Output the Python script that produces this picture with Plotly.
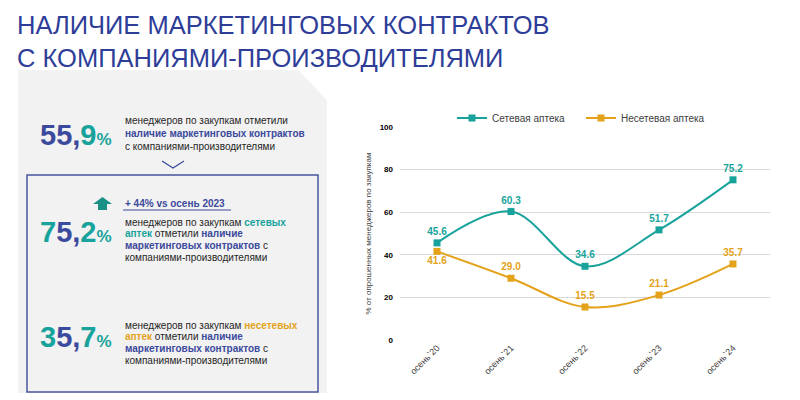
import plotly.graph_objects as go

seasons = ["осень`20", "осень`21", "осень`22", "осень`23", "осень`24"]
network = [45.6, 60.3, 34.6, 51.7, 75.2]
non_network = [41.6, 29.0, 15.5, 21.1, 35.7]
non_network_pos = ["bottom center", "top center", "top center", "top center", "top center"]

TEAL = "#17A39B"
ORANGE = "#E3A21A"
BLUE = "#3B4A9C"
TITLE_BLUE = "#2E3D98"
DARK = "#262626"
FONT = "Liberation Sans, Arial, sans-serif"
W, H = 800, 400
OFF = 8  # page margin around the plot div


def px(x):
    return (x - OFF) / W


def py(y):
    return 1 - (y - OFF) / H


fig = go.Figure()
fig.add_trace(go.Scatter(
    x=seasons, y=network, name="Сетевая аптека",
    mode="lines+markers+text", line=dict(color=TEAL, width=2, shape="spline", smoothing=1),
    marker=dict(symbol="square", size=7, color=TEAL),
    text=[f"{v:.1f}" for v in network], textposition="top center",
    textfont=dict(color=TEAL, size=10, family=FONT, weight="bold"),
))
fig.add_trace(go.Scatter(
    x=seasons, y=non_network, name="Несетевая аптека",
    mode="lines+markers+text", line=dict(color=ORANGE, width=2, shape="spline", smoothing=1),
    marker=dict(symbol="square", size=7, color=ORANGE),
    text=[f"{v:.1f}" for v in non_network], textposition=non_network_pos,
    textfont=dict(color=ORANGE, size=10, family=FONT, weight="bold"),
))

shapes = [
    # grey panel with cut corner
    dict(type="path", xref="paper", yref="paper", layer="below",
         path=f"M {px(18)},{py(70)} L {px(298)},{py(70)} L {px(327)},{py(100)} "
              f"L {px(327)},{py(393)} L {px(18)},{py(393)} Z",
         fillcolor="#F2F2F2", line=dict(width=0)),
    # framed box
    dict(type="rect", xref="paper", yref="paper", layer="below",
         x0=px(27), x1=px(318), y0=py(175), y1=py(392),
         line=dict(color="#4A569D", width=1.5), fillcolor="rgba(0,0,0,0)"),
    # chevron
    dict(type="path", xref="paper", yref="paper",
         path=f"M {px(162)},{py(161)} L {px(173)},{py(168)} L {px(184)},{py(161)}",
         line=dict(color=BLUE, width=1.3)),
    # up arrow
    dict(type="path", xref="paper", yref="paper",
         path=f"M {px(102.5)},{py(197)} L {px(112)},{py(204)} L {px(107)},{py(204)} "
              f"L {px(107)},{py(210)} L {px(98)},{py(210)} L {px(98)},{py(204)} "
              f"L {px(93)},{py(204)} Z",
         fillcolor="#1A9086", line=dict(width=0)),
    # underline
    dict(type="line", xref="paper", yref="paper",
         x0=px(123), x1=px(231), y0=py(210), y1=py(210),
         line=dict(color=BLUE, width=1)),
]

annotations = [
    dict(text="НАЛИЧИЕ МАРКЕТИНГОВЫХ КОНТРАКТОВ<br>С КОМПАНИЯМИ-ПРОИЗВОДИТЕЛЯМИ",
         x=px(15), y=py(9), xanchor="left", yanchor="top", align="left",
         font=dict(size=25.5, color=TITLE_BLUE, family=FONT)),
    dict(text="+ 44% vs осень 2023", x=px(123), y=py(203),
         font=dict(size=10, color=BLUE, family=FONT, weight="bold")),
]


def big(num, first_teal, yc):
    head, tail = num.split(",")
    if first_teal:
        s = (f"<span style='color:{TEAL}'>{head[0]}</span>"
             f"<span style='color:{BLUE}'>{head[1:]},</span>")
    else:
        s = f"<span style='color:{BLUE}'>{head},</span>"
    s += (f"<span style='color:{TEAL}'>{tail}</span>"
          f"<span style='color:{TEAL};font-size:17px'>%</span>")
    annotations.append(dict(text=s, x=px(38), y=py(yc),
                            font=dict(size=29, family=FONT, weight="bold")))


def bold(word, color):
    return f"<b><span style='color:{color}'>{word}</span></b>"


big("55,9", False, 135)
big("75,2", True, 232)
big("35,7", True, 337)

blocks = [
    ([121, 133.5, 146],
     ["менеджеров по закупкам отметили",
      bold("наличие маркетинговых контрактов", BLUE),
      "с компаниями-производителями"]),
    ([222, 234, 245.5, 257],
     ["менеджеров по закупкам " + bold("сетевых", TEAL),
      bold("аптек", TEAL) + " отметили " + bold("наличие", BLUE),
      bold("маркетинговых контрактов", BLUE) + " с",
      "компаниями-производителями"]),
    ([325, 336.5, 348.5, 360.5],
     ["менеджеров по закупкам " + bold("несетевых", ORANGE),
      bold("аптек", ORANGE) + " отметили " + bold("наличие", BLUE),
      bold("маркетинговых контрактов", BLUE) + " с",
      "компаниями-производителями"]),
]
for ys, lines in blocks:
    for yy, line in zip(ys, lines):
        annotations.append(dict(text=line, x=px(123), y=py(yy),
                                font=dict(size=10, color=DARK, family=FONT)))

for a in annotations:
    a.setdefault("xref", "paper")
    a.setdefault("yref", "paper")
    a.setdefault("xanchor", "left")
    a.setdefault("yanchor", "middle")
    a.setdefault("showarrow", False)

fig.update_layout(
    width=W, height=H,
    margin=dict(l=0, r=0, t=0, b=0),
    paper_bgcolor="white", plot_bgcolor="white",
    font=dict(family=FONT, color="#404040"),
    shapes=shapes, annotations=annotations,
    legend=dict(orientation="h", x=px(452), y=py(118), xanchor="left", yanchor="middle",
                font=dict(size=10, color="#404040"), entrywidth=84, entrywidthmode="pixels",
                bgcolor="rgba(0,0,0,0)"),
    xaxis=dict(domain=[px(400), px(770)], range=[-0.5, 4.5], automargin=False,
               showgrid=False, showline=False, ticks="",
               tickangle=-45, tickfont=dict(size=9, color="#404040")),
    yaxis=dict(domain=[py(340), py(127)], range=[0, 100], dtick=20, automargin=False,
               gridcolor="#D9D9D9", gridwidth=1, zeroline=False, showline=False,
               tickfont=dict(size=8, color="#000000", weight="bold"), ticklabelstandoff=6,
               title=dict(text="% от опрошенных менеджеров по закупкам",
                          font=dict(size=8, color="#404040"), standoff=6)),
)

fig.write_html("out.html")
